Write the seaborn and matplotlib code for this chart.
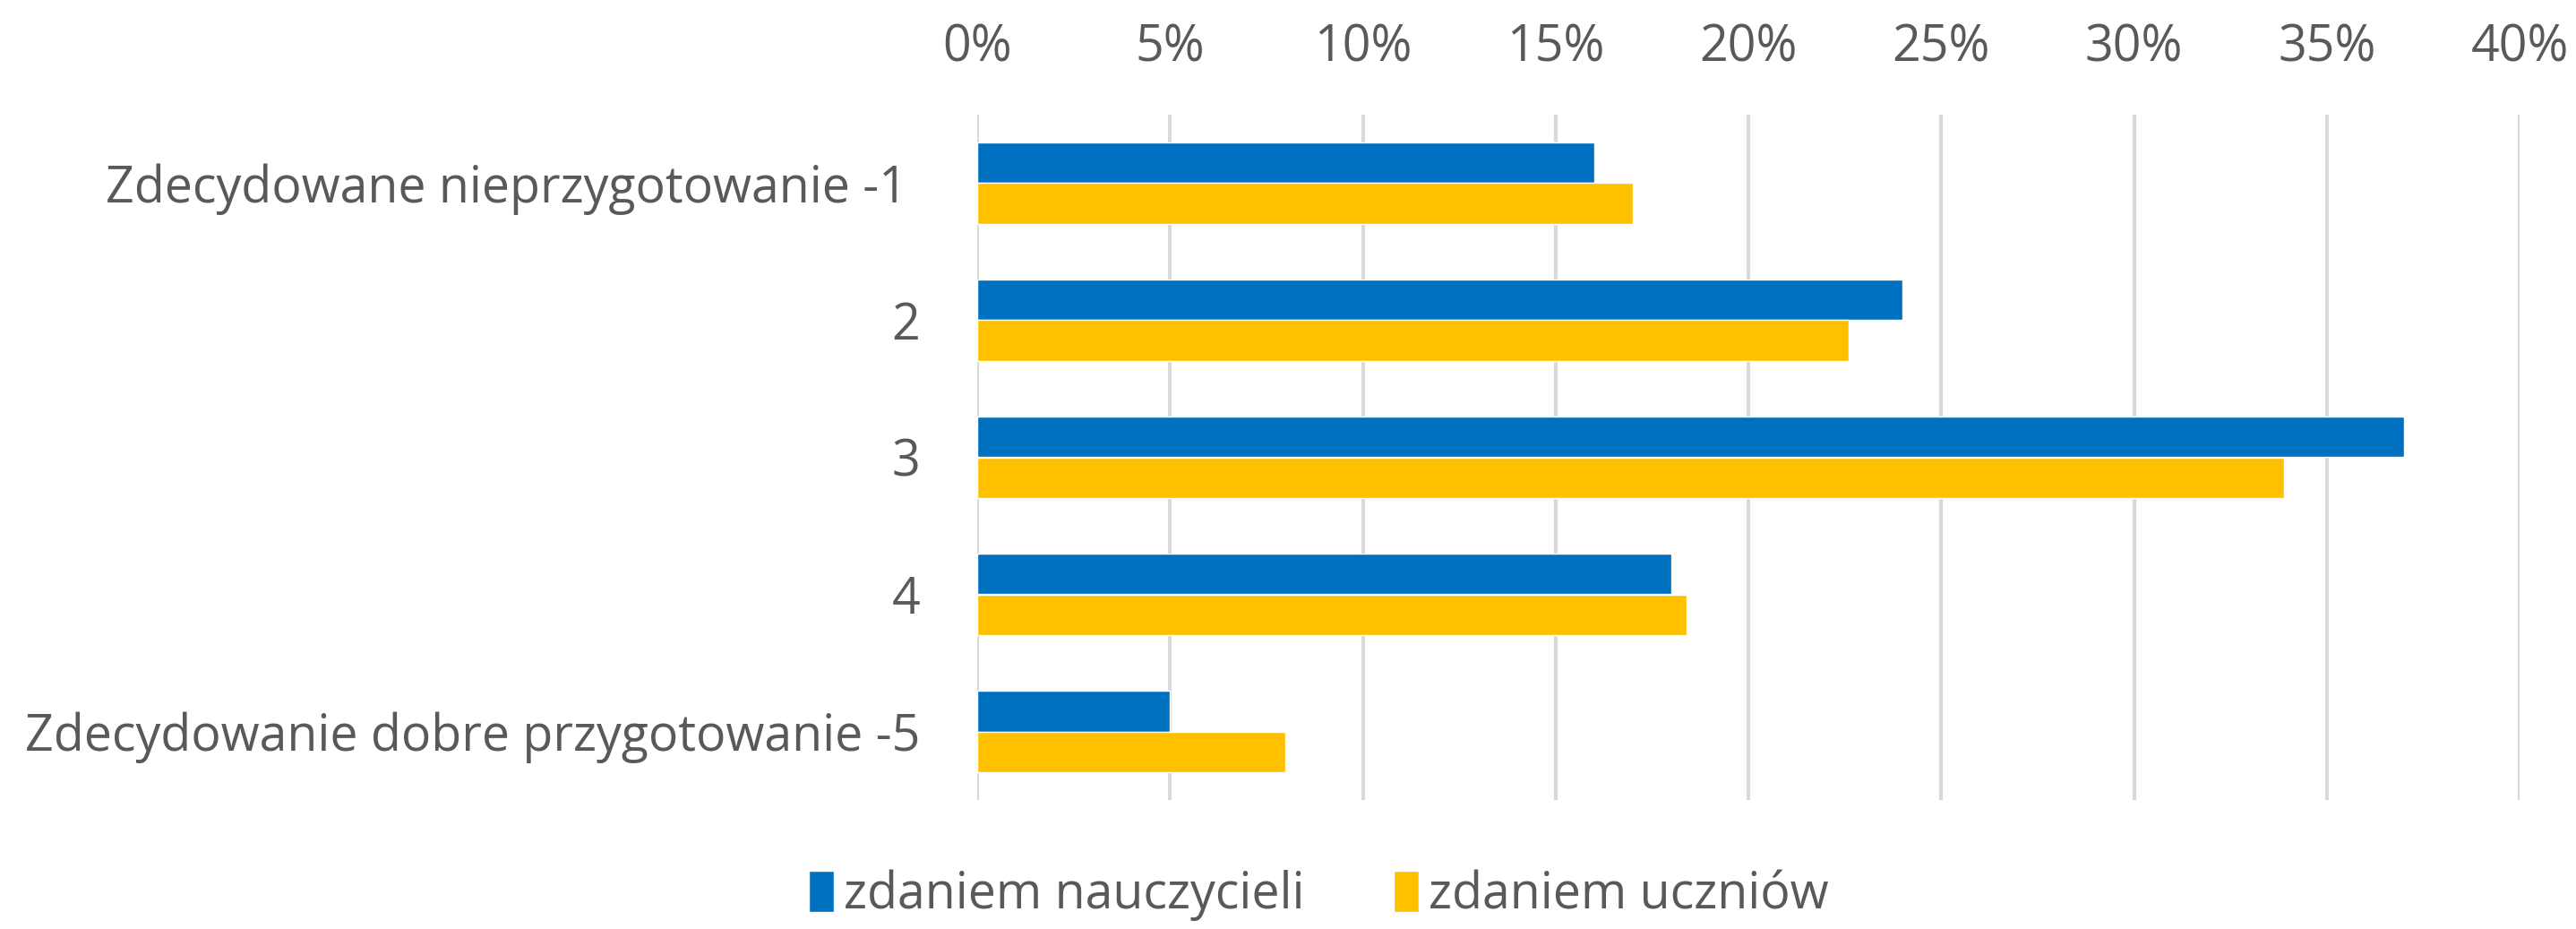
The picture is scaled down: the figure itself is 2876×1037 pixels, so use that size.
import numpy as np
import matplotlib
matplotlib.use('Agg')
import matplotlib.pyplot as plt
import pandas as pd
import seaborn as sns

categories = ['Zdecydowane nieprzygotowanie -1 ', '2', '3', '4',
              'Zdecydowanie dobre przygotowanie -5']
teachers = [16, 24, 37, 18, 5]
students = [17, 22.6, 33.9, 18.4, 8]
series = ['zdaniem nauczycieli', 'zdaniem uczniów']
ticks = [0, 5, 10, 15, 20, 25, 30, 35, 40]

df = pd.DataFrame({
    'kat': categories * 2,
    'val': teachers + students,
    'seria': [series[0]] * len(categories) + [series[1]] * len(categories),
})

sns.set_style('white')
plt.rcParams['font.family'] = ['Open Sans', 'DejaVu Sans']
grey = '#595959'

fig = plt.figure(figsize=(28.76, 10.37), dpi=100)
ax = fig.add_axes([1091 / 2876, 1 - 893 / 1037, (2813 - 1091) / 2876, (893 - 128) / 1037])

sns.barplot(data=df, x='val', y='kat', hue='seria', orient='h',
            palette=['#0070C0', '#FFC000'], width=0.6, saturation=1,
            ax=ax, legend=True)

ax.set_xlim(0, 40)
ax.set_ylim(4.5, -0.5)
ax.set_xticks(ticks)
ax.set_xticklabels([f'{t}%' for t in ticks])
ax.xaxis.tick_top()
ax.grid(axis='x', color='#D9D9D9', linewidth=3)
ax.set_axisbelow(True)
for s in ax.spines.values():
    s.set_visible(False)
ax.tick_params(axis='x', length=0, pad=33, labelsize=40, labelcolor=grey)
ax.tick_params(axis='y', length=0, pad=46, labelsize=40, labelcolor=grey)
ax.set_xlabel('')
ax.set_ylabel('')

h, l = ax.get_legend_handles_labels()
ax.get_legend().remove()
fig.legend(h, l, loc='center', bbox_to_anchor=(0.512, 0.036), ncol=2, frameon=False,
           fontsize=40, labelcolor=grey, handlelength=0.5, handleheight=0.9,
           handletextpad=0.2, columnspacing=1.8, borderpad=0.1)

fig.savefig('out.png', dpi=100)
